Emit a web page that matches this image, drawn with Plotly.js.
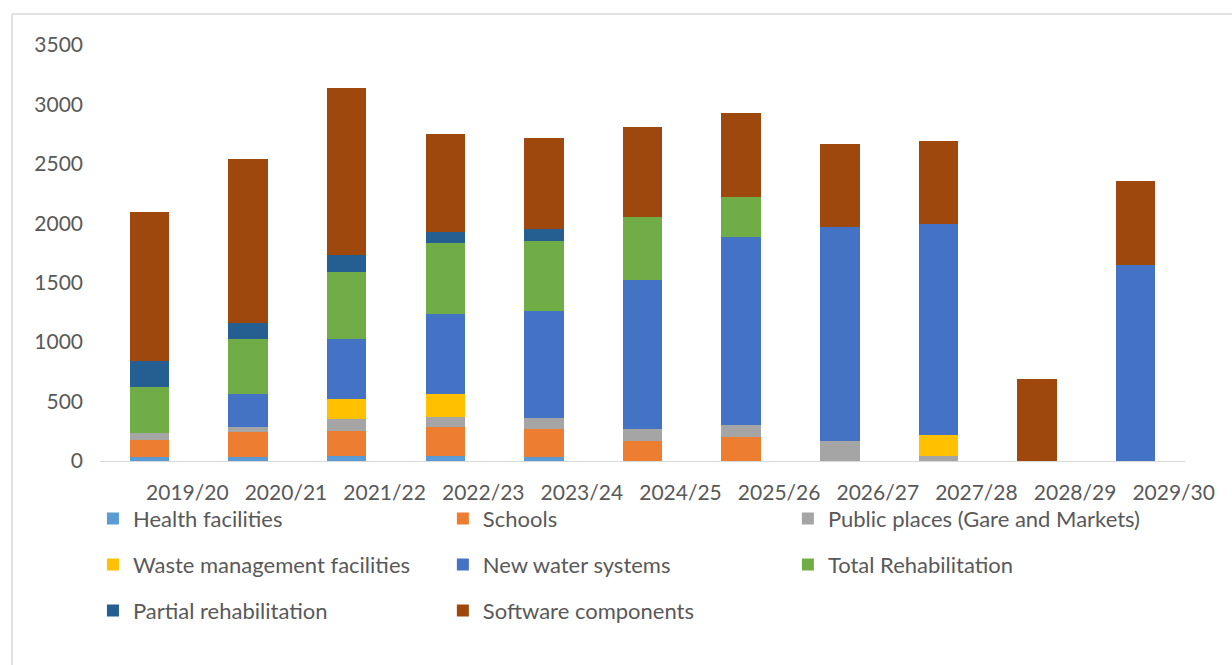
<!DOCTYPE html>
<html>
<head>
<meta charset="utf-8">
<script src="https://cdn.plot.ly/plotly-3.0.1.min.js"></script>
<style>
html,body{margin:0;padding:0;background:#ffffff;}
#chart{width:1232px;height:665px;}
</style>
</head>
<body>
<div id="chart"></div>
<script>
// Categories
const years = ["2019/20","2020/21","2021/22","2022/23","2023/24","2024/25","2025/26","2026/27","2027/28","2028/29","2029/30"];

// Series values
const healthFacilities     = [30, 30, 45, 45, 30, 0, 0, 0, 0, 0, 0];
const schools              = [150, 210, 208, 239, 237, 170, 200, 0, 0, 0, 0];
const publicPlaces         = [55, 50, 98, 84, 98, 98, 99, 169, 40, 0, 0];
const wasteManagement      = [0, 0, 170, 197, 0, 0, 0, 0, 177, 0, 0];
const newWaterSystems      = [0, 275, 506, 675, 900, 1251, 1585, 1800, 1773, 0, 1645];
const totalRehabilitation  = [385, 465, 562, 591, 590, 534, 338, 0, 0, 0, 0];
const partialRehabilitation= [220, 127, 141, 98, 99, 0, 0, 0, 0, 0, 0];
const softwareComponents   = [1254, 1382, 1405, 826, 761, 758, 707, 702, 703, 690, 711];

// Series names
const seriesNames = [
  "Health facilities",
  "Schools",
  "Public places (Gare and Markets)",
  "Waste management facilities",
  "New water systems",
  "Total Rehabilitation",
  "Partial rehabilitation",
  "Software components"
];
const seriesValues = [healthFacilities, schools, publicPlaces, wasteManagement,
                      newWaterSystems, totalRehabilitation, partialRehabilitation, softwareComponents];

// Styles (kept apart from data)
const seriesColors = ["#5B9BD5","#ED7D31","#A5A5A5","#FFC000","#4472C4","#70AD47","#255E91","#9E480E"];
const seriesLegend = ["legend","legend2","legend3","legend","legend2","legend3","legend","legend2"];

const FONT = "Lato, 'Open Sans', sans-serif";
const TXT = "#595959";

const traces = seriesNames.map((name, i) => ({
  type: "bar",
  name: name,
  x: years,
  y: seriesValues[i],
  marker: {color: seriesColors[i], line: {width: 0}},
  legend: seriesLegend[i],
  legendgroup: "g" + i,
  hoverinfo: "x+y+name"
}));

const legendBase = {
  orientation: "v",
  traceorder: "grouped",
  tracegroupgap: 14.5,
  font: {family: FONT, size: 22, color: TXT},
  bgcolor: "rgba(0,0,0,0)",
  borderwidth: 0,
  xanchor: "left",
  yanchor: "top",
  y: -0.088
};

const layout = {
  width: 1232,
  height: 665,
  margin: {l: 100, r: 47, t: 45, b: 204, pad: 0, autoexpand: false},
  paper_bgcolor: "#ffffff",
  plot_bgcolor: "#ffffff",
  barmode: "stack",
  bargap: 0.6,
  font: {family: FONT, color: TXT},
  showlegend: true,
  legend:  Object.assign({}, legendBase, {x: -0.0065}),
  legend2: Object.assign({}, legendBase, {x: 0.316}),
  legend3: Object.assign({}, legendBase, {x: 0.634}),
  xaxis: {
    type: "category",
    showline: true,
    linecolor: "#D9D9D9",
    linewidth: 1,
    showgrid: false,
    zeroline: false,
    ticks: "",
    tickfont: {family: FONT, size: 21, color: TXT},
    ticklabelshift: 38,
    ticklabelstandoff: 13
  },
  yaxis: {
    range: [0, 3500],
    dtick: 500,
    tick0: 0,
    showgrid: false,
    showline: false,
    zeroline: false,
    ticks: "",
    tickfont: {family: FONT, size: 21, color: TXT},
    ticklabelstandoff: 16
  },
  shapes: [
    {type: "line", xref: "paper", yref: "paper", x0: -0.0811, x1: -0.0811, y0: 1.0745, y1: -0.52,
     line: {color: "#D9D9D9", width: 1.5}},
    {type: "line", xref: "paper", yref: "paper", x0: -0.0811, x1: 1.06, y0: 1.0745, y1: 1.0745,
     line: {color: "#D9D9D9", width: 1.5}}
  ]
};

Plotly.newPlot("chart", traces, layout, {displayModeBar: false, staticPlot: true});
</script>
</body>
</html>
